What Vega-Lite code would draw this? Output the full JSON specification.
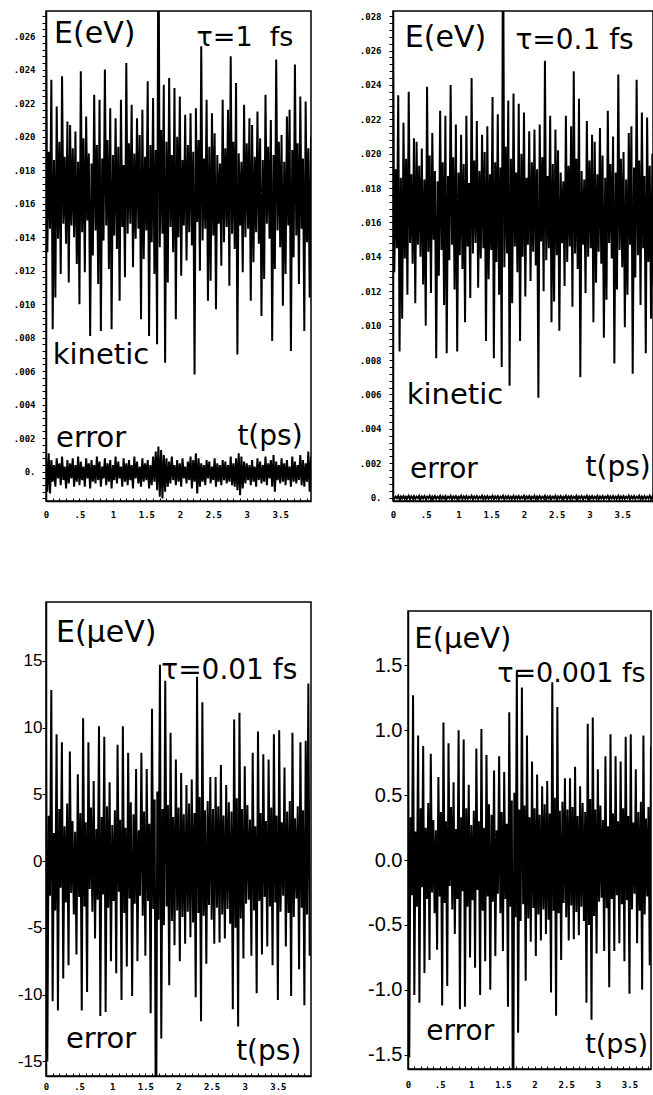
{
"$schema":"https://vega.github.io/schema/vega-lite/v6.json",
"background":"white",
"padding":{"left":0,"top":10,"right":0,"bottom":0},
"config":{"view":{"stroke":"black","strokeWidth":1.5},"axis":{"grid":false,"domainColor":"black","domainWidth":1.5,"tickColor":"black","labelColor":"black","labelOverlap":false,"labelFlush":false,"tickCount":200}},
"datasets":{"sig":[
{"t":0,"k":0.0262,"e":0.0009,"f":0.00008,"u":9,"w":0.92},
{"t":0.02,"k":0.0131,"e":-0.0012,"f":-0.00007,"u":-15,"w":-1.52},
{"t":0.04,"k":0.0191,"e":0.0011,"f":0.00005,"u":3.4,"w":0.33},
{"t":0.06,"k":0.0145,"e":-0.0013,"f":-0.00004,"u":-2.6,"w":-0.27},
{"t":0.08,"k":0.0234,"e":0.0007,"f":0.0001,"u":12.8,"w":1.27},
{"t":0.1,"k":0.0085,"e":-0.0006,"f":-0.00009,"u":-10.5,"w":-1.04},
{"t":0.12,"k":0.0186,"e":0.0004,"f":0.00006,"u":2.1,"w":0.22},
{"t":0.14,"k":0.0104,"e":-0.0009,"f":-0.00005,"u":-3.7,"w":-0.36},
{"t":0.16,"k":0.0218,"e":0.0008,"f":0.00008,"u":9.5,"w":0.96},
{"t":0.18,"k":0.0139,"e":-0.0004,"f":-0.00007,"u":-11.2,"w":-1.1},
{"t":0.2,"k":0.0197,"e":0.0005,"f":0.00005,"u":3.9,"w":0.4},
{"t":0.22,"k":0.0118,"e":-0.0008,"f":-0.00004,"u":-2,"w":-0.21},
{"t":0.24,"k":0.0236,"e":0.0009,"f":0.0001,"u":8.9,"w":0.88},
{"t":0.26,"k":0.0148,"e":-0.0005,"f":-0.00009,"u":-8.8,"w":-0.87},
{"t":0.28,"k":0.0188,"e":0.0003,"f":0.00006,"u":2.6,"w":0.25},
{"t":0.3,"k":0.0136,"e":-0.001,"f":-0.00005,"u":-3.1,"w":-0.3},
{"t":0.32,"k":0.0209,"e":0.0007,"f":0.00008,"u":4.3,"w":0.44},
{"t":0.34,"k":0.0113,"e":-0.0007,"f":-0.00007,"u":-7.8,"w":-0.77},
{"t":0.36,"k":0.0207,"e":0.0005,"f":0.00005,"u":8.2,"w":0.82},
{"t":0.38,"k":0.0147,"e":-0.0004,"f":-0.00004,"u":-2.4,"w":-0.25},
{"t":0.4,"k":0.0193,"e":0.0008,"f":0.0001,"u":3,"w":0.31},
{"t":0.42,"k":0.014,"e":-0.0009,"f":-0.00009,"u":-4,"w":-0.41},
{"t":0.44,"k":0.0203,"e":0.0004,"f":0.00006,"u":2.2,"w":0.23},
{"t":0.46,"k":0.0124,"e":-0.0006,"f":-0.00005,"u":-7,"w":-0.69},
{"t":0.48,"k":0.0185,"e":0.0009,"f":0.00008,"u":6.5,"w":0.64},
{"t":0.5,"k":0.01,"e":-0.0008,"f":-0.00007,"u":-2.7,"w":-0.28},
{"t":0.52,"k":0.0239,"e":0.0006,"f":0.00005,"u":3.6,"w":0.37},
{"t":0.54,"k":0.0143,"e":-0.0005,"f":-0.00004,"u":-11.2,"w":-1.12},
{"t":0.56,"k":0.0199,"e":0.0003,"f":0.0001,"u":10.7,"w":1.06},
{"t":0.58,"k":0.0119,"e":-0.0009,"f":-0.00009,"u":-3.4,"w":-0.33},
{"t":0.6,"k":0.0212,"e":0.0008,"f":0.00006,"u":2.9,"w":0.3},
{"t":0.62,"k":0.015,"e":-0.0004,"f":-0.00005,"u":-9.8,"w":-0.97},
{"t":0.64,"k":0.019,"e":0.0005,"f":0.00008,"u":8.9,"w":0.9},
{"t":0.66,"k":0.0081,"e":-0.001,"f":-0.00007,"u":-2.1,"w":-0.2},
{"t":0.68,"k":0.0184,"e":0.0007,"f":0.00005,"u":4,"w":0.41},
{"t":0.7,"k":0.0129,"e":-0.0006,"f":-0.00004,"u":-3.8,"w":-0.38},
{"t":0.72,"k":0.0225,"e":0.0004,"f":0.0001,"u":6,"w":0.6},
{"t":0.74,"k":0.0144,"e":-0.0007,"f":-0.00009,"u":-5.8,"w":-0.57},
{"t":0.76,"k":0.0195,"e":0.0009,"f":0.00006,"u":2.4,"w":0.24},
{"t":0.78,"k":0.0112,"e":-0.0005,"f":-0.00005,"u":-2.9,"w":-0.3},
{"t":0.8,"k":0.0222,"e":0.0006,"f":0.00008,"u":10.1,"w":1},
{"t":0.82,"k":0.0084,"e":-0.0009,"f":-0.00007,"u":-11.6,"w":-1.15},
{"t":0.84,"k":0.0187,"e":0.0003,"f":0.00005,"u":3.3,"w":0.33},
{"t":0.86,"k":0.0138,"e":-0.0004,"f":-0.00004,"u":-2.5,"w":-0.24},
{"t":0.88,"k":0.024,"e":0.0008,"f":0.0001,"u":9.3,"w":0.93},
{"t":0.9,"k":0.0147,"e":-0.0008,"f":-0.00009,"u":-11.3,"w":-1.13},
{"t":0.92,"k":0.0198,"e":0.0005,"f":0.00006,"u":4.1,"w":0.4},
{"t":0.94,"k":0.0121,"e":-0.0006,"f":-0.00005,"u":-3.5,"w":-0.36},
{"t":0.96,"k":0.0217,"e":0.0007,"f":0.00008,"u":5.9,"w":0.58},
{"t":0.98,"k":0.0085,"e":-0.001,"f":-0.00007,"u":-7.5,"w":-0.75},
{"t":1,"k":0.0189,"e":0.0004,"f":0.00005,"u":2.7,"w":0.27},
{"t":1.02,"k":0.0141,"e":-0.0005,"f":-0.00004,"u":-3,"w":-0.31},
{"t":1.04,"k":0.0211,"e":0.0009,"f":0.0001,"u":3.8,"w":0.38},
{"t":1.06,"k":0.0133,"e":-0.0007,"f":-0.00009,"u":-8.4,"w":-0.83},
{"t":1.08,"k":0.0194,"e":0.0006,"f":0.00006,"u":8.7,"w":0.86},
{"t":1.1,"k":0.0102,"e":-0.0004,"f":-0.00005,"u":-2.3,"w":-0.23},
{"t":1.12,"k":0.0222,"e":0.0003,"f":0.00008,"u":3.1,"w":0.3},
{"t":1.14,"k":0.0146,"e":-0.0009,"f":-0.00007,"u":-10.4,"w":-1.04},
{"t":1.16,"k":0.0183,"e":0.0008,"f":0.00005,"u":10.1,"w":1.01},
{"t":1.18,"k":0.0116,"e":-0.0006,"f":-0.00004,"u":-3.9,"w":-0.39},
{"t":1.2,"k":0.0244,"e":0.0005,"f":0.0001,"u":2.5,"w":0.25},
{"t":1.22,"k":0.0142,"e":-0.0008,"f":-0.00009,"u":-7.9,"w":-0.78},
{"t":1.24,"k":0.0196,"e":0.0007,"f":0.00006,"u":8.1,"w":0.81},
{"t":1.26,"k":0.0148,"e":-0.0005,"f":-0.00005,"u":-2.8,"w":-0.28},
{"t":1.28,"k":0.0219,"e":0.0004,"f":0.00008,"u":4.4,"w":0.43},
{"t":1.3,"k":0.0122,"e":-0.001,"f":-0.00007,"u":-10.1,"w":-1},
{"t":1.32,"k":0.019,"e":0.0009,"f":0.00005,"u":3.5,"w":0.35},
{"t":1.34,"k":0.0139,"e":-0.0004,"f":-0.00004,"u":-3.2,"w":-0.32},
{"t":1.36,"k":0.0211,"e":0.0006,"f":0.0001,"u":6.9,"w":0.69},
{"t":1.38,"k":0.0145,"e":-0.0007,"f":-0.00009,"u":-7.5,"w":-0.74},
{"t":1.4,"k":0.0201,"e":0.0003,"f":0.00006,"u":2.3,"w":0.23},
{"t":1.42,"k":0.0091,"e":-0.0009,"f":-0.00005,"u":-2.6,"w":-0.26},
{"t":1.44,"k":0.0216,"e":0.0008,"f":0.00008,"u":8.1,"w":0.8},
{"t":1.46,"k":0.0127,"e":-0.0006,"f":-0.00007,"u":-4.1,"w":-0.41},
{"t":1.48,"k":0.0188,"e":0.0005,"f":0.00005,"u":3.7,"w":0.37},
{"t":1.5,"k":0.0144,"e":-0.0005,"f":-0.00004,"u":-7.1,"w":-0.7},
{"t":1.52,"k":0.0233,"e":0.0007,"f":0.0001,"u":6.9,"w":0.68},
{"t":1.54,"k":0.0081,"e":-0.001,"f":-0.00009,"u":-3,"w":-0.3},
{"t":1.56,"k":0.0195,"e":0.0004,"f":0.00006,"u":2.8,"w":0.28},
{"t":1.58,"k":0.0137,"e":-0.0008,"f":-0.00005,"u":-11.4,"w":-1.13},
{"t":1.6,"k":0.0223,"e":0.0009,"f":0.00008,"u":11.4,"w":1.14},
{"t":1.62,"k":0.0118,"e":-0.0006,"f":-0.00007,"u":-3.6,"w":-0.36},
{"t":1.64,"k":0.0192,"e":0.0012,"f":0.00005,"u":4.6,"w":0.46},
{"t":1.66,"k":0.0076,"e":-0.0011,"f":-0.00004,"u":-25,"w":-2.5},
{"t":1.68,"k":0.035,"e":0.0015,"f":0.0001,"u":5.2,"w":0.52},
{"t":1.7,"k":0.0134,"e":-0.0015,"f":-0.00009,"u":-4.4,"w":-0.44},
{"t":1.72,"k":0.0204,"e":0.0013,"f":0.00006,"u":14.7,"w":1.46},
{"t":1.74,"k":0.0142,"e":-0.0016,"f":-0.00005,"u":-13.3,"w":-1.33},
{"t":1.76,"k":0.0231,"e":0.001,"f":0.00008,"u":3.9,"w":0.39},
{"t":1.78,"k":0.0065,"e":-0.0012,"f":-0.00007,"u":-4.8,"w":-0.47},
{"t":1.8,"k":0.0197,"e":0.0008,"f":0.00005,"u":13.5,"w":1.33},
{"t":1.82,"k":0.0113,"e":-0.0009,"f":-0.00004,"u":-3.4,"w":-0.34},
{"t":1.84,"k":0.0235,"e":0.0006,"f":0.0001,"u":4.2,"w":0.42},
{"t":1.86,"k":0.0146,"e":-0.0007,"f":-0.00009,"u":-9.3,"w":-0.93},
{"t":1.88,"k":0.0189,"e":0.0009,"f":0.00006,"u":9.6,"w":0.96},
{"t":1.9,"k":0.0131,"e":-0.0005,"f":-0.00005,"u":-4.5,"w":-0.45},
{"t":1.92,"k":0.0229,"e":0.0004,"f":0.00008,"u":3.3,"w":0.33},
{"t":1.94,"k":0.0091,"e":-0.0008,"f":-0.00007,"u":-6.3,"w":-0.63},
{"t":1.96,"k":0.02,"e":0.0007,"f":0.00005,"u":7.6,"w":0.76},
{"t":1.98,"k":0.014,"e":-0.0006,"f":-0.00004,"u":-3.7,"w":-0.37},
{"t":2,"k":0.0224,"e":0.0005,"f":0.0001,"u":4,"w":0.4},
{"t":2.02,"k":0.0117,"e":-0.0009,"f":-0.00009,"u":-7.5,"w":-0.74},
{"t":2.04,"k":0.0186,"e":0.0008,"f":0.00006,"u":6.6,"w":0.66},
{"t":2.06,"k":0.0147,"e":-0.0004,"f":-0.00005,"u":-4.2,"w":-0.42},
{"t":2.08,"k":0.0213,"e":0.0003,"f":0.00008,"u":3.5,"w":0.35},
{"t":2.1,"k":0.0126,"e":-0.0007,"f":-0.00007,"u":-6.2,"w":-0.62},
{"t":2.12,"k":0.0195,"e":0.0006,"f":0.00005,"u":5.7,"w":0.57},
{"t":2.14,"k":0.0143,"e":-0.0005,"f":-0.00004,"u":-3.8,"w":-0.38},
{"t":2.16,"k":0.0214,"e":0.0009,"f":0.0001,"u":4.3,"w":0.43},
{"t":2.18,"k":0.0135,"e":-0.001,"f":-0.00009,"u":-5.7,"w":-0.57},
{"t":2.2,"k":0.0191,"e":0.0007,"f":0.00006,"u":6.1,"w":0.61},
{"t":2.22,"k":0.0058,"e":-0.0006,"f":-0.00005,"u":-4.6,"w":-0.46},
{"t":2.24,"k":0.0217,"e":0.0011,"f":0.00008,"u":3.6,"w":0.36},
{"t":2.26,"k":0.0149,"e":-0.0013,"f":-0.00007,"u":-10.2,"w":-1.02},
{"t":2.28,"k":0.0198,"e":0.0008,"f":0.00005,"u":13.8,"w":1.37},
{"t":2.3,"k":0.012,"e":-0.0009,"f":-0.00004,"u":-3.9,"w":-0.39},
{"t":2.32,"k":0.0254,"e":0.0005,"f":0.0001,"u":4.8,"w":0.48},
{"t":2.34,"k":0.0138,"e":-0.0006,"f":-0.00009,"u":-12,"w":-1.2},
{"t":2.36,"k":0.0187,"e":0.0004,"f":0.00006,"u":11.9,"w":1.18},
{"t":2.38,"k":0.0145,"e":-0.0008,"f":-0.00005,"u":-4.1,"w":-0.41},
{"t":2.4,"k":0.0222,"e":0.0007,"f":0.00008,"u":3.8,"w":0.38},
{"t":2.42,"k":0.0102,"e":-0.0004,"f":-0.00007,"u":-7.7,"w":-0.77},
{"t":2.44,"k":0.0194,"e":0.0006,"f":0.00005,"u":4.5,"w":0.45},
{"t":2.46,"k":0.0114,"e":-0.0007,"f":-0.00004,"u":-3.3,"w":-0.33},
{"t":2.48,"k":0.0214,"e":0.0003,"f":0.0001,"u":6.3,"w":0.63},
{"t":2.5,"k":0.0141,"e":-0.0005,"f":-0.00009,"u":-4.4,"w":-0.44},
{"t":2.52,"k":0.0202,"e":0.0008,"f":0.00006,"u":3.9,"w":0.39},
{"t":2.54,"k":0.0097,"e":-0.0009,"f":-0.00005,"u":-6.2,"w":-0.62},
{"t":2.56,"k":0.0189,"e":0.0005,"f":0.00008,"u":6.3,"w":0.63},
{"t":2.58,"k":0.0148,"e":-0.0006,"f":-0.00007,"u":-3.5,"w":-0.35},
{"t":2.6,"k":0.0184,"e":0.0004,"f":0.00005,"u":4.1,"w":0.41},
{"t":2.62,"k":0.0123,"e":-0.0008,"f":-0.00004,"u":-6.1,"w":-0.61},
{"t":2.64,"k":0.0222,"e":0.0007,"f":0.0001,"u":7.2,"w":0.72},
{"t":2.66,"k":0.0137,"e":-0.0005,"f":-0.00009,"u":-4,"w":-0.4},
{"t":2.68,"k":0.0193,"e":0.0006,"f":0.00006,"u":3.4,"w":0.34},
{"t":2.7,"k":0.0146,"e":-0.0007,"f":-0.00005,"u":-5.8,"w":-0.58},
{"t":2.72,"k":0.0216,"e":0.0004,"f":0.00008,"u":5.7,"w":0.57},
{"t":2.74,"k":0.0111,"e":-0.0006,"f":-0.00007,"u":-3.6,"w":-0.36},
{"t":2.76,"k":0.0248,"e":0.0009,"f":0.00005,"u":4.4,"w":0.44},
{"t":2.78,"k":0.0142,"e":-0.0008,"f":-0.00004,"u":-4.7,"w":-0.47},
{"t":2.8,"k":0.0197,"e":0.0005,"f":0.0001,"u":3.7,"w":0.37},
{"t":2.82,"k":0.0133,"e":-0.0009,"f":-0.00009,"u":-11.1,"w":-1.1},
{"t":2.84,"k":0.0232,"e":0.0008,"f":0.00006,"u":10.6,"w":1.05},
{"t":2.86,"k":0.007,"e":-0.0011,"f":-0.00005,"u":-5,"w":-0.5},
{"t":2.88,"k":0.019,"e":0.0011,"f":0.00008,"u":4.7,"w":0.47},
{"t":2.9,"k":0.0147,"e":-0.0014,"f":-0.00007,"u":-12.4,"w":-1.23},
{"t":2.92,"k":0.0185,"e":0.0009,"f":0.00005,"u":11.1,"w":1.1},
{"t":2.94,"k":0.0119,"e":-0.001,"f":-0.00004,"u":-4.3,"w":-0.43},
{"t":2.96,"k":0.0219,"e":0.0006,"f":0.0001,"u":3.9,"w":0.39},
{"t":2.98,"k":0.014,"e":-0.0007,"f":-0.00009,"u":-7.3,"w":-0.72},
{"t":3,"k":0.0196,"e":0.0005,"f":0.00006,"u":7.1,"w":0.7},
{"t":3.02,"k":0.0145,"e":-0.0005,"f":-0.00005,"u":-3.2,"w":-0.32},
{"t":3.04,"k":0.0211,"e":0.0004,"f":0.00008,"u":4.2,"w":0.42},
{"t":3.06,"k":0.0102,"e":-0.0008,"f":-0.00007,"u":-2.9,"w":-0.29},
{"t":3.08,"k":0.0207,"e":0.0007,"f":0.00005,"u":3.1,"w":0.31},
{"t":3.1,"k":0.0125,"e":-0.0006,"f":-0.00004,"u":-7.1,"w":-0.7},
{"t":3.12,"k":0.0188,"e":0.0003,"f":0.0001,"u":8.1,"w":0.8},
{"t":3.14,"k":0.0143,"e":-0.0009,"f":-0.00009,"u":-3.7,"w":-0.37},
{"t":3.16,"k":0.0215,"e":0.0008,"f":0.00006,"u":2.6,"w":0.26},
{"t":3.18,"k":0.0136,"e":-0.0005,"f":-0.00005,"u":-9.9,"w":-0.98},
{"t":3.2,"k":0.0199,"e":0.0006,"f":0.00008,"u":9.7,"w":0.97},
{"t":3.22,"k":0.0093,"e":-0.0007,"f":-0.00007,"u":-3,"w":-0.3},
{"t":3.24,"k":0.0186,"e":0.0004,"f":0.00005,"u":3.6,"w":0.36},
{"t":3.26,"k":0.0115,"e":-0.0006,"f":-0.00004,"u":-7,"w":-0.7},
{"t":3.28,"k":0.0225,"e":0.0009,"f":0.0001,"u":8,"w":0.8},
{"t":3.3,"k":0.0148,"e":-0.0008,"f":-0.00009,"u":-2.7,"w":-0.27},
{"t":3.32,"k":0.0194,"e":0.0005,"f":0.00006,"u":3,"w":0.3},
{"t":3.34,"k":0.0139,"e":-0.0004,"f":-0.00005,"u":-6.4,"w":-0.64},
{"t":3.36,"k":0.021,"e":0.0007,"f":0.00008,"u":7.6,"w":0.76},
{"t":3.38,"k":0.0078,"e":-0.0009,"f":-0.00007,"u":-3.4,"w":-0.34},
{"t":3.4,"k":0.0189,"e":0.001,"f":0.00005,"u":4,"w":0.4},
{"t":3.42,"k":0.0121,"e":-0.0012,"f":-0.00004,"u":-7.8,"w":-0.78},
{"t":3.44,"k":0.0246,"e":0.0006,"f":0.0001,"u":9.5,"w":0.95},
{"t":3.46,"k":0.0144,"e":-0.0005,"f":-0.00009,"u":-3.1,"w":-0.31},
{"t":3.48,"k":0.0197,"e":0.0004,"f":0.00006,"u":3.4,"w":0.34},
{"t":3.5,"k":0.0134,"e":-0.0007,"f":-0.00005,"u":-10.4,"w":-1.03},
{"t":3.52,"k":0.0201,"e":0.0008,"f":0.00008,"u":9.8,"w":0.97},
{"t":3.54,"k":0.0099,"e":-0.0006,"f":-0.00007,"u":-3.8,"w":-0.38},
{"t":3.56,"k":0.0185,"e":0.0005,"f":0.00005,"u":2.9,"w":0.29},
{"t":3.58,"k":0.0118,"e":-0.0008,"f":-0.00004,"u":-2.6,"w":-0.26},
{"t":3.6,"k":0.0212,"e":0.0007,"f":0.0001,"u":7,"w":0.7},
{"t":3.62,"k":0.0147,"e":-0.0005,"f":-0.00009,"u":-6.4,"w":-0.64},
{"t":3.64,"k":0.0216,"e":0.0003,"f":0.00006,"u":3.7,"w":0.37},
{"t":3.66,"k":0.0072,"e":-0.0009,"f":-0.00005,"u":-3.9,"w":-0.39},
{"t":3.68,"k":0.0192,"e":0.0009,"f":0.00008,"u":4.5,"w":0.45},
{"t":3.7,"k":0.0128,"e":-0.0006,"f":-0.00007,"u":-10.1,"w":-1},
{"t":3.72,"k":0.0243,"e":0.0006,"f":0.00005,"u":9.6,"w":0.96},
{"t":3.74,"k":0.0141,"e":-0.0007,"f":-0.00004,"u":-4.2,"w":-0.42},
{"t":3.76,"k":0.0196,"e":0.0004,"f":0.0001,"u":3.2,"w":0.32},
{"t":3.78,"k":0.0112,"e":-0.0005,"f":-0.00009,"u":-2.8,"w":-0.28},
{"t":3.8,"k":0.0224,"e":0.001,"f":0.00006,"u":4.1,"w":0.41},
{"t":3.82,"k":0.0145,"e":-0.0008,"f":-0.00005,"u":-8.1,"w":-0.81},
{"t":3.84,"k":0.0187,"e":0.0007,"f":0.00008,"u":8.9,"w":0.88},
{"t":3.86,"k":0.0084,"e":-0.0009,"f":-0.00007,"u":-3.5,"w":-0.35},
{"t":3.88,"k":0.0221,"e":0.0005,"f":0.00005,"u":3.8,"w":0.38},
{"t":3.9,"k":0.0137,"e":-0.0006,"f":-0.00004,"u":-10.8,"w":-1.07},
{"t":3.92,"k":0.0193,"e":0.0012,"f":0.0001,"u":9,"w":0.9},
{"t":3.94,"k":0.0104,"e":-0.0012,"f":-0.00009,"u":-4,"w":-0.4},
{"t":3.96,"k":0.02,"e":0.0009,"f":0.00006,"u":13.3,"w":1.32},
{"t":3.98,"k":0.0123,"e":-0.001,"f":-0.00005,"u":-7.1,"w":-0.7}
]},
"columns":2,
"align":"none",
"spacing":{"row":81,"column":40},
"concat":[
{"width":265,"height":490,
"layer":[
{"data":{"name":"sig"},"transform":[{"fold":["k","e"],"as":["series","val"]}],
"mark":{"type":"line","color":"black","strokeWidth":2,"clip":true},
"encoding":{
"x":{"field":"t","type":"quantitative","scale":{"domain":[0,3.96],"nice":false,"zero":false},
"axis":{"title":null,"values":[0,0.1,0.2,0.3,0.4,0.5,0.6,0.7,0.8,0.9,1,1.1,1.2,1.3,1.4,1.5,1.6,1.7,1.8,1.9,2,2.1,2.2,2.3,2.4,2.5,2.6,2.7,2.8,2.9,3,3.1,3.2,3.3,3.4,3.5,3.6,3.7,3.8,3.9],"tickCount":200,"tickSize":-3,"labelOverlap":false,"labelExpr":"abs(datum.value*2-round(datum.value*2))<0.001 ? (datum.value==0.5 ? '.5' : ''+datum.value) : ''","labelFont":"DejaVu Sans Mono","labelFontWeight":"bold","labelFontSize":9,"labelPadding":12}},
"y":{"field":"val","type":"quantitative","scale":{"domain":[-0.00175,0.0275],"nice":false,"zero":false},
"axis":{"title":null,"values":[-0.0016,-0.0012,-0.0008,-0.0004,0,0.0004,0.0008,0.0012,0.0016,0.002,0.0024,0.0028,0.0032,0.0036,0.004,0.0044,0.0048,0.0052,0.0056,0.006,0.0064,0.0068,0.0072,0.0076,0.008,0.0084,0.0088,0.0092,0.0096,0.01,0.0104,0.0108,0.0112,0.0116,0.012,0.0124,0.0128,0.0132,0.0136,0.014,0.0144,0.0148,0.0152,0.0156,0.016,0.0164,0.0168,0.0172,0.0176,0.018,0.0184,0.0188,0.0192,0.0196,0.02,0.0204,0.0208,0.0212,0.0216,0.022,0.0224,0.0228,0.0232,0.0236,0.024,0.0244,0.0248,0.0252,0.0256,0.026,0.0264,0.0268,0.0272],"tickCount":200,"tickSize":4,"labelOverlap":false,"labelPadding":7,"labelExpr":"abs(datum.value*500-round(datum.value*500))<0.01 && datum.value>=0 ? (datum.value==0 ? '0.' : replace(format(datum.value,'.3f'),'0.','.')) : ''","labelFont":"DejaVu Sans Mono","labelFontWeight":"bold","labelFontSize":9,"minExtent":45,"maxExtent":45}},
"detail":{"field":"series"}}},
{"data":{"values":[{}]},"mark":{"type":"text","text":"E(eV)","font":"DejaVu Sans","fontSize":30,"align":"left","baseline":"alphabetic","color":"black"},"encoding":{"x":{"datum":0.12},"y":{"datum":0.0256}}},
{"data":{"values":[{}]},"mark":{"type":"text","text":"τ=1\u00a0\u00a0fs","font":"DejaVu Sans","fontSize":27,"align":"left","baseline":"alphabetic","color":"black"},"encoding":{"x":{"datum":2.25},"y":{"datum":0.0254}}},
{"data":{"values":[{}]},"mark":{"type":"text","text":"kinetic","font":"DejaVu Sans","fontSize":29,"align":"left","baseline":"alphabetic","color":"black"},"encoding":{"x":{"datum":0.1},"y":{"datum":0.0064}}},
{"data":{"values":[{}]},"mark":{"type":"text","text":"error","font":"DejaVu Sans","fontSize":29,"align":"left","baseline":"alphabetic","color":"black"},"encoding":{"x":{"datum":0.15},"y":{"datum":0.0015}}},
{"data":{"values":[{}]},"mark":{"type":"text","text":"t(ps)","font":"DejaVu Sans","fontSize":28,"align":"left","baseline":"alphabetic","color":"black"},"encoding":{"x":{"datum":2.86},"y":{"datum":0.0016}}}
]},
{"width":260,"height":490,
"layer":[
{"data":{"name":"sig"},"transform":[{"fold":["k","f"],"as":["series","val"]}],
"mark":{"type":"line","color":"black","strokeWidth":2,"clip":true},
"encoding":{
"x":{"field":"t","type":"quantitative","scale":{"domain":[0,3.97],"nice":false,"zero":false},
"axis":{"title":null,"values":[0,0.1,0.2,0.3,0.4,0.5,0.6,0.7,0.8,0.9,1,1.1,1.2,1.3,1.4,1.5,1.6,1.7,1.8,1.9,2,2.1,2.2,2.3,2.4,2.5,2.6,2.7,2.8,2.9,3,3.1,3.2,3.3,3.4,3.5,3.6,3.7,3.8,3.9],"tickCount":200,"tickSize":-3,"labelOverlap":false,"labelExpr":"abs(datum.value*2-round(datum.value*2))<0.001 ? (datum.value==0.5 ? '.5' : ''+datum.value) : ''","labelFont":"DejaVu Sans Mono","labelFontWeight":"bold","labelFontSize":9,"labelPadding":12}},
"y":{"field":"val","type":"quantitative","scale":{"domain":[-0.0002,0.0283],"nice":false,"zero":false},
"axis":{"title":null,"values":[0,0.0004,0.0008,0.0012,0.0016,0.002,0.0024,0.0028,0.0032,0.0036,0.004,0.0044,0.0048,0.0052,0.0056,0.006,0.0064,0.0068,0.0072,0.0076,0.008,0.0084,0.0088,0.0092,0.0096,0.01,0.0104,0.0108,0.0112,0.0116,0.012,0.0124,0.0128,0.0132,0.0136,0.014,0.0144,0.0148,0.0152,0.0156,0.016,0.0164,0.0168,0.0172,0.0176,0.018,0.0184,0.0188,0.0192,0.0196,0.02,0.0204,0.0208,0.0212,0.0216,0.022,0.0224,0.0228,0.0232,0.0236,0.024,0.0244,0.0248,0.0252,0.0256,0.026,0.0264,0.0268,0.0272,0.0276,0.028],"tickCount":200,"tickSize":4,"labelOverlap":false,"labelPadding":8,"labelExpr":"abs(datum.value*500-round(datum.value*500))<0.01 && datum.value>=0 ? (datum.value==0 ? '0.' : replace(format(datum.value,'.3f'),'0.','.')) : ''","labelFont":"DejaVu Sans Mono","labelFontWeight":"bold","labelFontSize":9,"minExtent":40,"maxExtent":40}},
"detail":{"field":"series"}}},
{"data":{"values":[{}]},"mark":{"type":"text","text":"E(eV)","font":"DejaVu Sans","fontSize":30,"align":"left","baseline":"alphabetic","color":"black"},"encoding":{"x":{"datum":0.18},"y":{"datum":0.0262}}},
{"data":{"values":[{}]},"mark":{"type":"text","text":"τ=0.1 fs","font":"DejaVu Sans","fontSize":28,"align":"left","baseline":"alphabetic","color":"black"},"encoding":{"x":{"datum":1.87},"y":{"datum":0.0261}}},
{"data":{"values":[{}]},"mark":{"type":"text","text":"kinetic","font":"DejaVu Sans","fontSize":29,"align":"left","baseline":"alphabetic","color":"black"},"encoding":{"x":{"datum":0.21},"y":{"datum":0.00545}}},
{"data":{"values":[{}]},"mark":{"type":"text","text":"error","font":"DejaVu Sans","fontSize":28,"align":"left","baseline":"alphabetic","color":"black"},"encoding":{"x":{"datum":0.26},"y":{"datum":0.00116}}},
{"data":{"values":[{}]},"mark":{"type":"text","text":"t(ps)","font":"DejaVu Sans","fontSize":28,"align":"left","baseline":"alphabetic","color":"black"},"encoding":{"x":{"datum":2.94},"y":{"datum":0.00128}}}
]},
{"width":265,"height":474,
"layer":[
{"data":{"name":"sig"},
"mark":{"type":"line","color":"black","strokeWidth":2,"clip":true},
"encoding":{
"x":{"field":"t","type":"quantitative","scale":{"domain":[0,4],"nice":false,"zero":false},
"axis":{"title":null,"values":[0,0.1,0.2,0.3,0.4,0.5,0.6,0.7,0.8,0.9,1,1.1,1.2,1.3,1.4,1.5,1.6,1.7,1.8,1.9,2,2.1,2.2,2.3,2.4,2.5,2.6,2.7,2.8,2.9,3,3.1,3.2,3.3,3.4,3.5,3.6,3.7,3.8,3.9],"tickCount":200,"tickSize":-3,"labelOverlap":false,"labelExpr":"abs(datum.value*2-round(datum.value*2))<0.001 ? (datum.value==0.5 ? '.5' : ''+datum.value) : ''","labelFont":"DejaVu Sans Mono","labelFontWeight":"bold","labelFontSize":9,"labelPadding":9}},
"y":{"field":"u","type":"quantitative","scale":{"domain":[-16.1,19.4],"nice":false,"zero":false},
"axis":{"title":null,"values":[-15,-10,-5,0,5,10,15],"tickCount":200,"tickSize":4,"labelOverlap":false,"labelPadding":0,"labelExpr":"''+datum.value","labelFont":"Liberation Sans","labelFontSize":17,"minExtent":45,"maxExtent":45}}}},
{"data":{"values":[{}]},"mark":{"type":"text","text":"E(μeV)","font":"DejaVu Sans","fontSize":30,"align":"left","baseline":"alphabetic","color":"black"},"encoding":{"x":{"datum":0.15},"y":{"datum":16.4}}},
{"data":{"values":[{}]},"mark":{"type":"text","text":"τ=0.01 fs","font":"DejaVu Sans","fontSize":28,"align":"left","baseline":"alphabetic","color":"black"},"encoding":{"x":{"datum":1.74},"y":{"datum":13.6}}},
{"data":{"values":[{}]},"mark":{"type":"text","text":"error","font":"DejaVu Sans","fontSize":29,"align":"left","baseline":"alphabetic","color":"black"},"encoding":{"x":{"datum":0.3},"y":{"datum":-14}}},
{"data":{"values":[{}]},"mark":{"type":"text","text":"t(ps)","font":"DejaVu Sans","fontSize":28,"align":"left","baseline":"alphabetic","color":"black"},"encoding":{"x":{"datum":2.87},"y":{"datum":-14.9}}}
]},
{"width":243,"height":458,
"title":{"text":".","fontSize":9,"offset":0,"anchor":"start","color":"white"},
"layer":[
{"data":{"name":"sig"},
"mark":{"type":"line","color":"black","strokeWidth":2,"clip":true},
"encoding":{
"x":{"field":"t","type":"quantitative","scale":{"domain":[0,3.84],"nice":false,"zero":false},
"axis":{"title":null,"values":[0,0.1,0.2,0.3,0.4,0.5,0.6,0.7,0.8,0.9,1,1.1,1.2,1.3,1.4,1.5,1.6,1.7,1.8,1.9,2,2.1,2.2,2.3,2.4,2.5,2.6,2.7,2.8,2.9,3,3.1,3.2,3.3,3.4,3.5,3.6,3.7,3.8],"tickCount":200,"tickSize":-3,"labelOverlap":false,"labelExpr":"abs(datum.value*2-round(datum.value*2))<0.001 ? (datum.value==0.5 ? '.5' : ''+datum.value) : ''","labelFont":"DejaVu Sans Mono","labelFontWeight":"bold","labelFontSize":9,"labelPadding":14}},
"y":{"field":"w","type":"quantitative","scale":{"domain":[-1.61,1.92],"nice":false,"zero":false},
"axis":{"title":null,"values":[-1.5,-1,-0.5,0,0.5,1,1.5],"tickCount":200,"tickSize":4,"labelOverlap":false,"labelPadding":2,"labelExpr":"(datum.value<0 ? '-' : '') + format(abs(datum.value),'.1f')","labelFont":"Liberation Sans","labelFontSize":20,"minExtent":55,"maxExtent":55}}}},
{"data":{"values":[{}]},"mark":{"type":"text","text":"E(μeV)","font":"DejaVu Sans","fontSize":29,"align":"left","baseline":"alphabetic","color":"black"},"encoding":{"x":{"datum":0.1},"y":{"datum":1.636}}},
{"data":{"values":[{}]},"mark":{"type":"text","text":"τ=0.001 fs","font":"DejaVu Sans","fontSize":27,"align":"left","baseline":"alphabetic","color":"black"},"encoding":{"x":{"datum":1.41},"y":{"datum":1.376}}},
{"data":{"values":[{}]},"mark":{"type":"text","text":"error","font":"DejaVu Sans","fontSize":28,"align":"left","baseline":"alphabetic","color":"black"},"encoding":{"x":{"datum":0.29},"y":{"datum":-1.384}}},
{"data":{"values":[{}]},"mark":{"type":"text","text":"t(ps)","font":"DejaVu Sans","fontSize":27,"align":"left","baseline":"alphabetic","color":"black"},"encoding":{"x":{"datum":2.8},"y":{"datum":-1.49}}}
]}
]
}
